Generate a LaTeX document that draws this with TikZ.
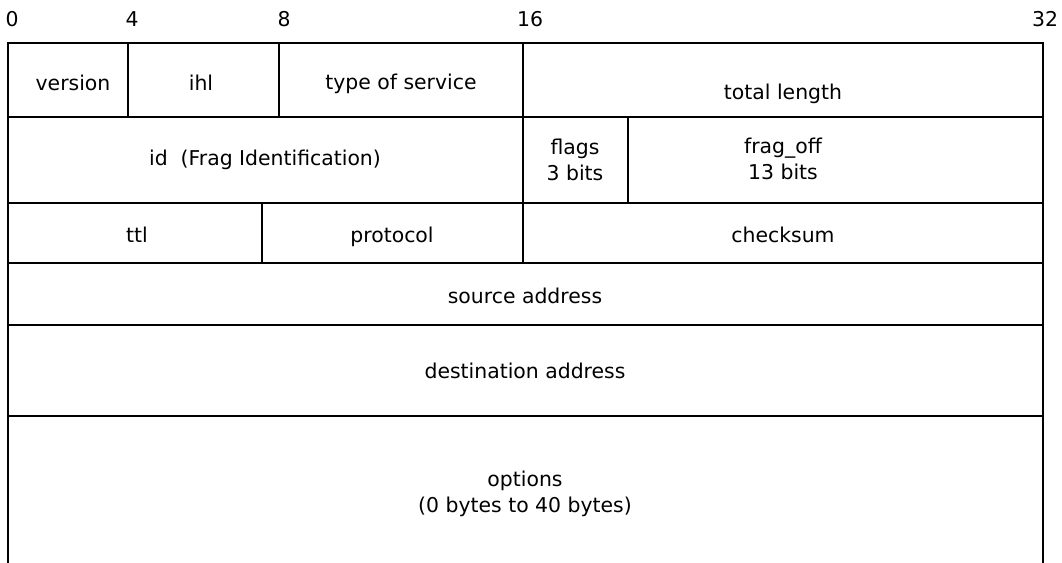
\documentclass[tikz,border=0pt]{standalone}
\usepackage{fontspec}
\setmainfont{DejaVu Sans}
\usepackage{tikz}
\usetikzlibrary{positioning}

\begin{document}
\begin{tikzpicture}[x=0.025cm, y=-0.025cm]
        % Define styles for lines and labels
        \tikzstyle{grid} = [line width=1.8pt, line cap=rect]
        \tikzstyle{field} = [inner sep=0pt, align=center, font=\fontsize{14.5}{19}\selectfont]
        \tikzstyle{bitmark} = [inner sep=0pt, font=\fontsize{14.5}{19}\selectfont]
        \useasboundingbox (0,0) rectangle (1062,563);
        \fill[white] (0,0) rectangle (1062,563);

        % Bit positions
        \node[bitmark] (b0) at (12, 19.5) {0};
        \node[bitmark] (b4) at (132, 19.5) {4};
        \node[bitmark] (b8) at (284, 19.5) {8};
        \node[bitmark] (b16) at (530, 19.5) {16};
        \node[bitmark] (b32) at (1045, 19.5) {32};

        % Draw rows
        \draw[grid] (8,563) -- (8,43) -- (1043,43) -- (1043,563);
        \foreach \y in {117, 203, 263, 325, 416}
            \draw[grid] (8,\y) -- (1043,\y);

        % Draw columns
        \draw[grid] (128,43) -- (128,117);
        \draw[grid] (279,43) -- (279,117);
        \draw[grid] (523,43) -- (523,263);
        \draw[grid] (628,117) -- (628,203);
        \draw[grid] (262,203) -- (262,263);

        % Fields
        \node[field] (version) at (73, 83) {version};
        \node[field] (ihl) at (201, 83) {ihl};
        \node[field] (tos) at (401, 84) {type of service};
        \node[field] (totlen) at (783, 94) {total length};
        \node[field] (id) at (265, 160) {id \ (Frag Identification)};
        \node[field] (flags) at (575, 160) {flags\\3 bits};
        \node[field] (fragoff) at (783, 159) {frag\_off\\13 bits};
        \node[field] (ttl) at (137, 235) {ttl};
        \node[field] (protocol) at (392, 237) {protocol};
        \node[field] (checksum) at (783, 235) {checksum};
        \node[field] (saddr) at (525, 296) {source address};
        \node[field] (daddr) at (525, 371) {destination address};
        \node[field] (options) at (525, 494) {options\\(0 bytes to 40 bytes)};
    \end{tikzpicture}
\end{document}
